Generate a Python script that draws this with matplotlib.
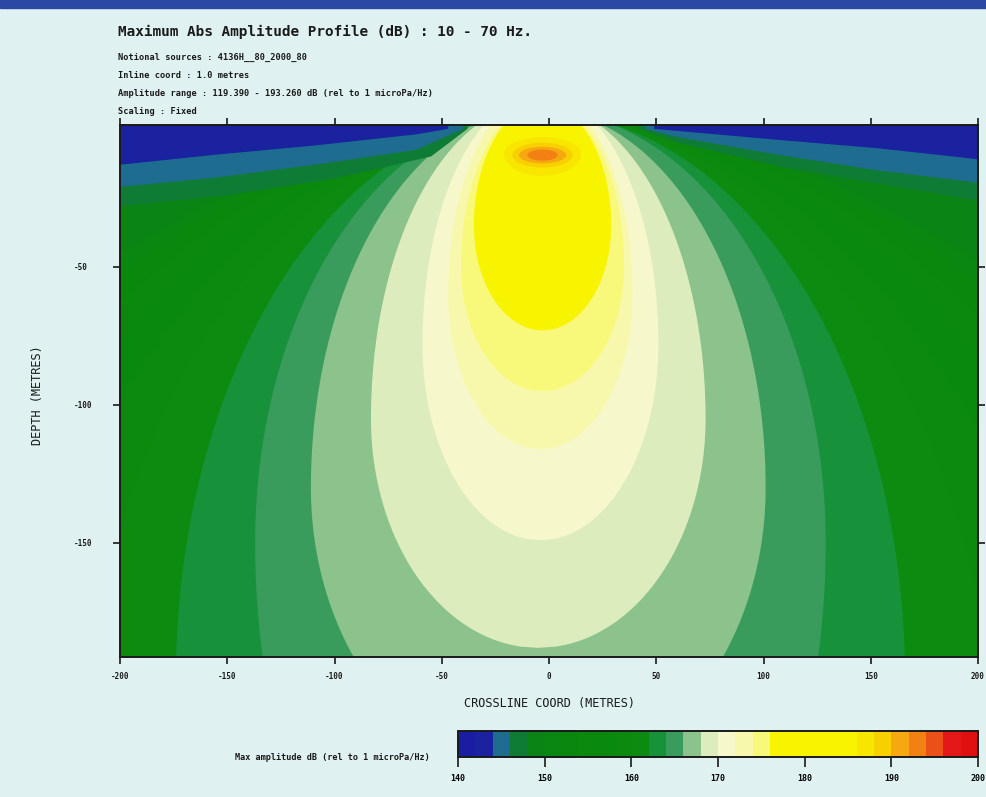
import numpy as np
import matplotlib
matplotlib.use("Agg")
import matplotlib.pyplot as plt
from matplotlib.patches import Polygon, Rectangle
from matplotlib.colors import ListedColormap, BoundaryNorm
from matplotlib.colorbar import ColorbarBase

# ---- colour scale: 2 dB bands from 140 to 200 dB ----
band_edges = list(range(140, 202, 2))
band_colors = [
    "#1a1ca2", "#1a22a0",                      # 140-144
    "#1e6c90",                                 # 144-146
    "#0e7c34",                                 # 146-148
    "#0a8414", "#0a8710", "#0a880e", "#0a890c",
    "#0a8a0c", "#0b8a0e", "#0c8b10", "#18923a",  # 148-164
    "#3a9c5c",                                 # 164-166
    "#8cc28c",                                 # 166-168
    "#dcecbc",                                 # 168-170
    "#f6f8cc",                                 # 170-172
    "#f8f8ac",                                 # 172-174
    "#f8f87a",                                 # 174-176
    "#f8f400", "#f8f400", "#f8f400", "#f8f400", "#f8f400",  # 176-186
    "#f8e600",                                 # 186-188
    "#f8d000",                                 # 188-190
    "#f6a810",                                 # 190-192
    "#f28012",                                 # 192-194
    "#ea5018",                                 # 194-196
    "#e41818", "#e01010",                      # 196-200
]
cbar_ticks = [140, 150, 160, 170, 180, 190, 200]

# ---- closed iso-amplitude lobes (level >= value inside) ----
# crossline centre, top, depth of widest point, bottom (metres), half-width (metres)
lobe_level = [150, 152, 154, 156, 158, 160, 162, 164, 166, 168,
              170, 172, 174, 176, 186, 188, 190, 192]
lobe_xc = [-3, -3, -3, -3, -4, -4, -4, -4, -5, -5,
           -4, -4, -3, -3, -3, -3, -3, -3]
lobe_top = [3.0, 3.5, 4.0, 4.5, 5.0, 5.0, 5.7, 6.6, 7.1, 9.4,
            12.5, 13.2, 10.0, 9.0, -3.0, -5.0, -6.5, -7.5]
lobe_widest = [-650, -550, -460, -380, -310, -250, -200, -150, -130, -105,
               -78, -60, -50, -35, -9.0, -9.5, -9.5, -9.5]
lobe_bottom = [-1350, -1150, -960, -800, -650, -520, -420, -330, -235, -188,
               -149, -116, -95, -73, -17.0, -14.0, -12.5, -11.5]
lobe_halfwidth = [520, 450, 380, 320, 265, 215, 170, 133, 106, 78,
                  55, 43, 38, 32, 18, 14, 11, 7]

# ---- near-surface contours in the outer corners (depth of the level) ----
edge_level = [148, 146, 144]
edge_left_x = [[-200, -150, -100, -55, -38],
               [-200, -156, -109, -62, -40],
               [-200, -156, -109, -62, -47]]
edge_left_z = [[-28, -24, -18, -10, 0],
               [-21, -17.7, -13, -7.6, 0],
               [-13, -9.4, -6, -2, 0]]
edge_right_x = [[42, 60, 110, 155, 200],
                [45, 60, 107, 153, 200],
                [49, 107, 153, 200]]
edge_right_z = [[0, -5, -14, -20, -26],
                [0, -3, -9.4, -15, -19.5],
                [0, -4, -7, -11]]

x_ticks = [-200, -150, -100, -50, 0, 50, 100, 150, 200]
y_ticks = [-50, -100, -150]

title = "Maximum Abs Amplitude Profile (dB) : 10 - 70 Hz."
info_lines = [
    "Notional sources : 4136H__80_2000_80",
    "Inline coord : 1.0 metres",
    "Amplitude range : 119.390 - 193.260 dB (rel to 1 microPa/Hz)",
    "Scaling : Fixed",
]

paper = "#e0f1f1"
ink = "#1a1a1a"
mono = ["DejaVu Sans Mono"]
Y_TOP = 1.4


def lobe_outline(xc, top, zw, bot, hw, n=180):
    """Egg-shaped outline: two half-ellipses joined at the widest depth."""
    zu = np.linspace(top, zw, n)
    u = (zu - zw) / (top - zw)
    xu = hw * np.sqrt(np.clip(1 - u ** 2, 0, None))
    zl = np.linspace(zw, bot, n)
    v = (zl - zw) / (bot - zw)
    xl = hw * np.sqrt(np.clip(1 - v ** 2, 0, None))
    xr = np.concatenate([xu, xl])
    zr = np.concatenate([zu, zl])
    xs = np.concatenate([xc + xr, (xc - xr)[::-1]])
    zs = np.concatenate([zr, zr[::-1]])
    return np.column_stack([xs, zs])


W, H = 986, 797
fig = plt.figure(figsize=(W / 100, H / 100), dpi=100, facecolor=paper)


def box(l, t, r, b):
    return [l / W, 1 - b / H, (r - l) / W, (b - t) / H]


# page edge
fig.patches.append(Rectangle((0, 1 - 8 / H), 1, 8 / H, transform=fig.transFigure,
                             color="#2a48a4", zorder=0))

ax = fig.add_axes(box(120, 125, 978, 657))
ax.set_xlim(-200, 200)
ax.set_ylim(-191.3, Y_TOP)
ax.set_facecolor(band_colors[band_edges.index(148)])

for lev, xc, top, zw, bot, hw in zip(lobe_level, lobe_xc, lobe_top, lobe_widest,
                                     lobe_bottom, lobe_halfwidth):
    ax.add_patch(Polygon(lobe_outline(xc, top, zw, bot, hw),
                         closed=True, facecolor=band_colors[band_edges.index(lev)],
                         edgecolor="none", lw=0))

# corner regions below each near-surface level, drawn from the outermost inwards
for lev, lx, lz, rx, rz in zip(edge_level, edge_left_x, edge_left_z,
                               edge_right_x, edge_right_z):
    below = band_colors[band_edges.index(lev) - 1]
    ax.fill_between(lx, lz, Y_TOP, facecolor=below, edgecolor="none", lw=0, zorder=3)
    ax.fill_between(rx, rz, Y_TOP, facecolor=below, edgecolor="none", lw=0, zorder=3)

ax.set_xticks(x_ticks)
ax.set_xticklabels([str(v) for v in x_ticks])
ax.set_yticks(y_ticks)
ax.set_yticklabels([str(v) for v in y_ticks])
ax.tick_params(axis="both", direction="out", length=5, width=1.2, color=ink,
               labelsize=5.5, top=True, right=True, labeltop=False, labelright=False)
ax.tick_params(axis="x", pad=6)
ax.tick_params(axis="y", pad=28)
for lab in ax.get_yticklabels():
    lab.set_horizontalalignment("left")
for lab in ax.get_xticklabels() + ax.get_yticklabels():
    lab.set_family(mono)
    lab.set_fontweight("bold")
    lab.set_color(ink)
for s in ax.spines.values():
    s.set_linewidth(1.4)
    s.set_color(ink)
    s.set_zorder(5)

fig.text(549 / W, 1 - 703 / H, "CROSSLINE COORD (METRES)", family=mono, fontsize=8.6,
         color=ink, ha="center", va="center")
fig.text(37 / W, 1 - 395 / H, "DEPTH (METRES)", family=mono, fontsize=8.6,
         color=ink, ha="center", va="center", rotation=90)

# header text
fig.text(118 / W, 1 - 32 / H, title, family=mono, fontsize=10.4, fontweight="bold",
         color=ink, va="center", ha="left")
for i, line in enumerate(info_lines):
    fig.text(118 / W, 1 - (57 + 18.3 * i) / H, line, family=mono, fontsize=6.2,
             fontweight="bold", color=ink, va="center", ha="left")

# colour bar
cax = fig.add_axes(box(458, 731, 978, 757))
cmap = ListedColormap(band_colors)
norm = BoundaryNorm(band_edges, cmap.N)
cb = ColorbarBase(cax, cmap=cmap, norm=norm, orientation="horizontal",
                  ticks=cbar_ticks, drawedges=False)
cb.minorticks_off()
cb.outline.set_linewidth(1.4)
cb.outline.set_edgecolor(ink)
cax.tick_params(direction="out", length=7, width=1.2, color=ink, labelsize=6, pad=5)
cax.set_xticklabels([str(v) for v in cbar_ticks])
for lab in cax.get_xticklabels():
    lab.set_family(mono)
    lab.set_fontweight("bold")
fig.text(430 / W, 1 - 757 / H, "Max amplitude dB (rel to 1 microPa/Hz)", family=mono,
         fontsize=6.1, fontweight="bold", color=ink, ha="right", va="center")

fig.savefig("out.png", dpi=100, facecolor=paper)
